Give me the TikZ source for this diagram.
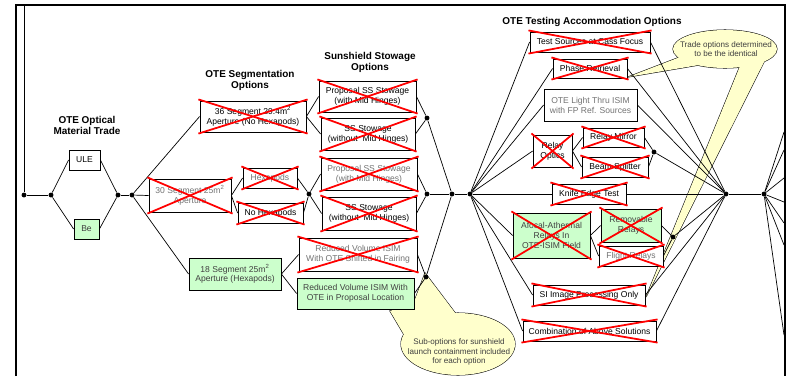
\documentclass[tikz,border=0pt]{standalone}
\usepackage{fontspec}
\setmainfont{Liberation Sans}
\definecolor{okgreen}{HTML}{CCFFCC}
\definecolor{bubblefill}{HTML}{FFFFCC}
\tikzset{
  opt/.style={draw, fill=white, align=center, inner sep=1pt, line width=0.7pt,
    font=\fontsize{7.3}{8.5}\selectfont},
  dim/.style={text=black!55},
  ok/.style={fill=okgreen, text=black!75},
  wh/.style 2 args={minimum width=#1*0.3mm, minimum height=#2*0.3mm},
  junc/.style={circle, fill, inner sep=0pt, minimum size=4.2pt},
  ttl/.style={align=center, font=\bfseries\fontsize{8.5}{10}\selectfont},
  note/.style={align=center, text=black!75, font=\fontsize{6.9}{8.1}\selectfont},
  bubble/.style={draw, line width=0.9pt},
  nixline/.style={red, line width=1.5pt},
  frame/.style={line width=1.2pt}
}
\newcommand{\nix}[1]{%
  \draw[nixline] ([shift={(-1pt,1pt)}]#1.north west) -- ([shift={(1pt,-1pt)}]#1.south east);
  \draw[nixline] ([shift={(-1pt,-1pt)}]#1.south west) -- ([shift={(1pt,1pt)}]#1.north east);}
\begin{document}
\begin{tikzpicture}
[x=0.3mm, y=-0.3mm, line width=0.6pt]
\useasboundingbox (0,0) rectangle (786,376);
% callouts, behind everything
\draw[bubble] (458,344) ellipse [x radius=17.1mm, y radius=9.3mm];
\draw[bubble] (390,311) -- (414,302) -- (425,273) -- (462,322) -- (406,338) -- cycle;
\draw[bubble] (725,49) ellipse [x radius=15.6mm, y radius=5.7mm];
\draw[bubble] (628,77) -- (680,57) -- (705,64) -- cycle;
\draw[bubble] (646,297) -- (740,66) -- (765,60) -- cycle;
\fill[bubblefill] (458,344) ellipse [x radius=17.1mm, y radius=9.3mm];
\fill[bubblefill] (390,311) -- (414,302) -- (425,273) -- (462,322) -- (406,338) -- cycle;
\fill[bubblefill] (725,49) ellipse [x radius=15.6mm, y radius=5.7mm];
\fill[bubblefill] (628,77) -- (680,57) -- (705,64) -- cycle;
\fill[bubblefill] (646,297) -- (740,66) -- (765,60) -- cycle;
\node[note] (subopt) at (459,352) {Sub-options for sunshield\\launch containment included\\for each option};
\node[note] (same) at (726,49) {Trade options determined\\to be the identical};

% frame
\draw[frame] (16,376) -- (16,5) -- (785,5) -- (785,376);
\coordinate (top) at (24,5);

% titles
\node[ttl] (t0) at (87,125.5) {OTE Optical\\Material Trade};
\node[ttl] (t1) at (250,80.5) {OTE Segmentation\\Options};
\node[ttl] (t2) at (370,62.5) {Sunshield Stowage\\Options};
\node[ttl] (t3) at (592,22) {OTE Testing Accommodation Options};

% junctions
\node[junc] (d0) at (24,195) {};
\node[junc] (d1) at (51,195) {};
\node[junc] (d2) at (118,195) {};
\node[junc] (d3) at (132,195) {};
\node[junc] (d4) at (309,194) {};
\node[junc] (d5) at (427,118) {};
\node[junc] (d6) at (427,194) {};
\node[junc] (d7) at (426,277) {};
\node[junc] (d8) at (452,194) {};
\node[junc] (d9) at (470,194) {};
\node[junc] (d10) at (654,152) {};
\node[junc] (d11) at (673,237) {};
\node[junc] (d12) at (726,194) {};
\node[junc] (d13) at (764,194) {};

% material
\node[opt, wh={31}{20}] (ule) at (84.5,160) {ULE};
\node[opt, ok, wh={25}{20}] (be) at (86.5,229) {Be};

% segmentation
\node[opt, wh={106}{31}] (s36) at (253,116.5) {36 Segment 29.4m\textsuperscript{2}\\Aperture (No Hexapods)};
\node[opt, dim, wh={82}{33}] (s30) at (190,195.5) {30 Segment 25m\textsuperscript{2}\\Aperture};
\node[opt, dim, wh={54}{20}] (hexa) at (270,178) {Hexapods};
\node[opt, wh={65}{20}] (nohexa) at (270.5,213) {No Hexapods};
\node[opt, ok, wh={92}{32}] (s18) at (235,274) {18 Segment 25m\textsuperscript{2}\\Aperture (Hexapods)};

% sunshield
\node[opt, wh={97}{31}] (ssa) at (367.5,96.5) {Proposal SS Stowage\\(with Mid Hinges)};
\node[opt, wh={94}{32}] (ssb) at (368,134) {SS Stowage\\(without\ \ Mid Hinges)};
\node[opt, dim, wh={96}{32}] (ssc) at (369,174) {Proposal SS Stowage\\(with Mid Hinges)};
\node[opt, wh={94}{33}] (ssd) at (369,213.5) {SS Stowage\\(without\ \ Mid Hinges)};
\node[opt, dim, wh={118}{33}] (isime) at (358,254.5) {Reduced Volume ISIM\\With OTE Shifted in Fairing};
\node[opt, ok, wh={117}{31}] (isimf) at (355.5,293.5) {Reduced Volume ISIM With\\OTE in Proposal Location};

% testing
\node[opt, wh={120}{20}] (cass) at (590,42) {Test Sources at Cass Focus};
\node[opt, wh={74}{19}] (phase) at (590,68.5) {Phase Retrieval};
\node[opt, dim, wh={93}{32}] (light) at (590.5,105) {OTE Light Thru ISIM\\with FP Ref. Sources};
\node[opt, wh={39}{32}] (relay) at (552.5,151) {Relay\\Optics};
\node[opt, wh={61}{19}] (mirror) at (613.5,137.5) {Relay Mirror};
\node[opt, wh={66}{20}] (splitter) at (615,167) {Beam Splitter};
\node[opt, wh={74}{20}] (knife) at (589,194) {Knife Edge Test};
\node[opt, ok, wh={77}{45}] (afocal) at (551.5,235.5) {Afocal-Athermal\\Relays In\\OTE-ISIM Field};
\node[opt, ok, wh={60}{33}] (removable) at (631,225.5) {Removable\\Relays};
\node[opt, dim, wh={64}{20}] (flight) at (631,256) {Flight Relays};
\node[opt, wh={112}{20}] (siproc) at (589,295) {SI Image Processing Only};
\node[opt, wh={133}{20}] (combo) at (589.5,331) {Combination of Above Solutions};

% connectors
\draw (top) -- (d0) -- (d1);
\draw (d1) -- (ule.west);
\draw (d1) -- (be.west);
\draw (ule.east) -- (d2);
\draw (be.east) -- (d2);
\draw (d2) -- (d3);
\draw (d3) -- (s36.west);
\draw (d3) -- (s30.west);
\draw (d3) -- (s18.west);
\draw (s30.east) -- (hexa.west);
\draw (s30.east) -- (nohexa.west);
\draw (hexa.east) -- (d4);
\draw (nohexa.east) -- (d4);
\draw (s36.east) -- (ssa.west);
\draw (s36.east) -- (ssb.west);
\draw (ssa.east) -- (d5);
\draw (ssb.east) -- (d5);
\draw (d4) -- (ssc.west);
\draw (d4) -- (ssd.west);
\draw (ssc.east) -- (d6);
\draw (ssd.east) -- (d6);
\draw (s18.east) -- (isime.west);
\draw (s18.east) -- (isimf.west);
\draw (isime.east) -- (d7);
\draw (isimf.east) -- (d7);
\draw (d5) -- (d8);
\draw (d6) -- (d8);
\draw (d7) -- (d8);
\draw (d8) -- (d9);
\foreach \b in {cass,phase,light,relay,knife,afocal,siproc,combo}
  \draw (d9) -- (\b.west);
\draw (relay.east) -- (mirror.west);
\draw (relay.east) -- (splitter.west);
\draw (mirror.east) -- (d10);
\draw (splitter.east) -- (d10);
\draw (afocal.east) -- (removable.west);
\draw (afocal.east) -- (flight.west);
\draw (removable.east) -- (d11);
\draw (flight.east) -- (d11);
\foreach \b in {cass,phase,light,knife,siproc,combo}
  \draw (\b.east) -- (d12);
\draw (d10) -- (d12);
\draw (d11) -- (d12);
\draw (d12) -- (d13);
\foreach \yy [count=\k] in {132,150,178,202,223,245,335} {
  \coordinate (r\k) at (784,\yy);
  \draw (d13) -- (r\k);
}

% ruled-out options
\foreach \b in {s36,s30,hexa,nohexa,ssa,ssb,ssc,ssd,isime,cass,phase,relay,mirror,splitter,knife,afocal,removable,flight,siproc,combo}
  {\nix{\b}}
\end{tikzpicture}
\end{document}
